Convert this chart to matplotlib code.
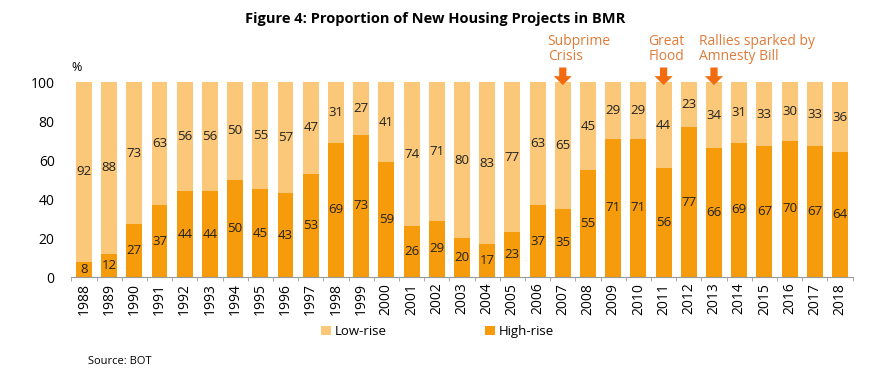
import numpy as np
import matplotlib.pyplot as plt

plt.rcParams['font.family'] = ['Open Sans', 'DejaVu Sans']

# data
years = [str(y) for y in range(1988, 2019)]
high_rise = [8, 12, 27, 37, 44, 44, 50, 45, 43, 53, 69, 73, 59, 26, 29, 20, 17, 23,
             37, 35, 55, 71, 71, 56, 77, 66, 69, 67, 70, 67, 64]
low_rise = [92, 88, 73, 63, 56, 56, 50, 55, 57, 47, 31, 27, 41, 74, 71, 80, 83, 77,
            63, 65, 45, 29, 29, 44, 23, 34, 31, 33, 30, 33, 36]
events = {'2007': 'Subprime\nCrisis', '2011': 'Great\nFlood',
          '2013': 'Rallies sparked by\nAmnesty Bill'}

c_low = '#FAC878'
c_high = '#F59B0C'
c_note = '#E07B39'

fig = plt.figure(figsize=(8.7, 3.75), dpi=100)
ax = fig.add_axes([0.082, 0.261, 0.898, 0.52])

x = np.arange(len(years))
hr = np.array(high_rise)
lr = np.array(low_rise)
ax.bar(x, hr, width=0.63, color=c_high, label='High-rise')
ax.bar(x, lr, width=0.63, bottom=hr, color=c_low, label='Low-rise')

for i in x:
    ax.text(i, hr[i] / 2, str(hr[i]), ha='center', va='center', fontsize=9.5, color='#222222')
    ax.text(i, hr[i] + lr[i] / 2, str(lr[i]), ha='center', va='center', fontsize=9.5, color='#222222')

# event arrows and notes
for yr, txt in events.items():
    i = years.index(yr)
    ax.annotate('', xy=(i, 98.5), xytext=(i, 107.5),
                arrowprops=dict(arrowstyle='simple,head_width=0.65,head_length=0.32,tail_width=0.26',
                                mutation_scale=20, color='#F26B0F', lw=0,
                                shrinkA=0, shrinkB=0), annotation_clip=False)
    ax.text(i - 0.6, 109.5, txt, ha='left', va='bottom', fontsize=10, color=c_note,
            linespacing=1.0, clip_on=False)

ax.set_xlim(-0.5, len(years) - 0.5)
ax.set_ylim(0, 100)
ax.set_yticks(range(0, 101, 20))
ax.set_xticks(x)
ax.set_xticklabels(years, rotation=90, fontsize=10)
ax.set_xticks(np.arange(-0.5, len(years), 1), minor=True)
ax.tick_params(axis='x', which='major', length=0, pad=4)
ax.tick_params(axis='x', which='minor', length=3, color='#999999')
ax.tick_params(axis='y', length=0, labelsize=10, pad=12)
for s in ['top', 'right', 'left']:
    ax.spines[s].set_visible(False)
ax.spines['bottom'].set_color('#999999')
ax.text(-0.3, 104, '%', fontsize=9, ha='center', va='bottom', clip_on=False)

fig.text(0.5, 0.95, 'Figure 4: Proportion of New Housing Projects in BMR',
         ha='center', va='center', fontsize=10.5, fontweight='bold')

handles, labels = ax.get_legend_handles_labels()
fig.legend(handles[::-1], labels[::-1], loc='center', bbox_to_anchor=(0.503, 0.115), ncol=2,
           frameon=False, fontsize=9.5, handlelength=0.7, handleheight=0.7,
           handletextpad=0.3, columnspacing=7.5)

fig.text(0.101, 0.035, 'Source: BOT', fontsize=8, ha='left', va='center')

plt.savefig('out.png')
